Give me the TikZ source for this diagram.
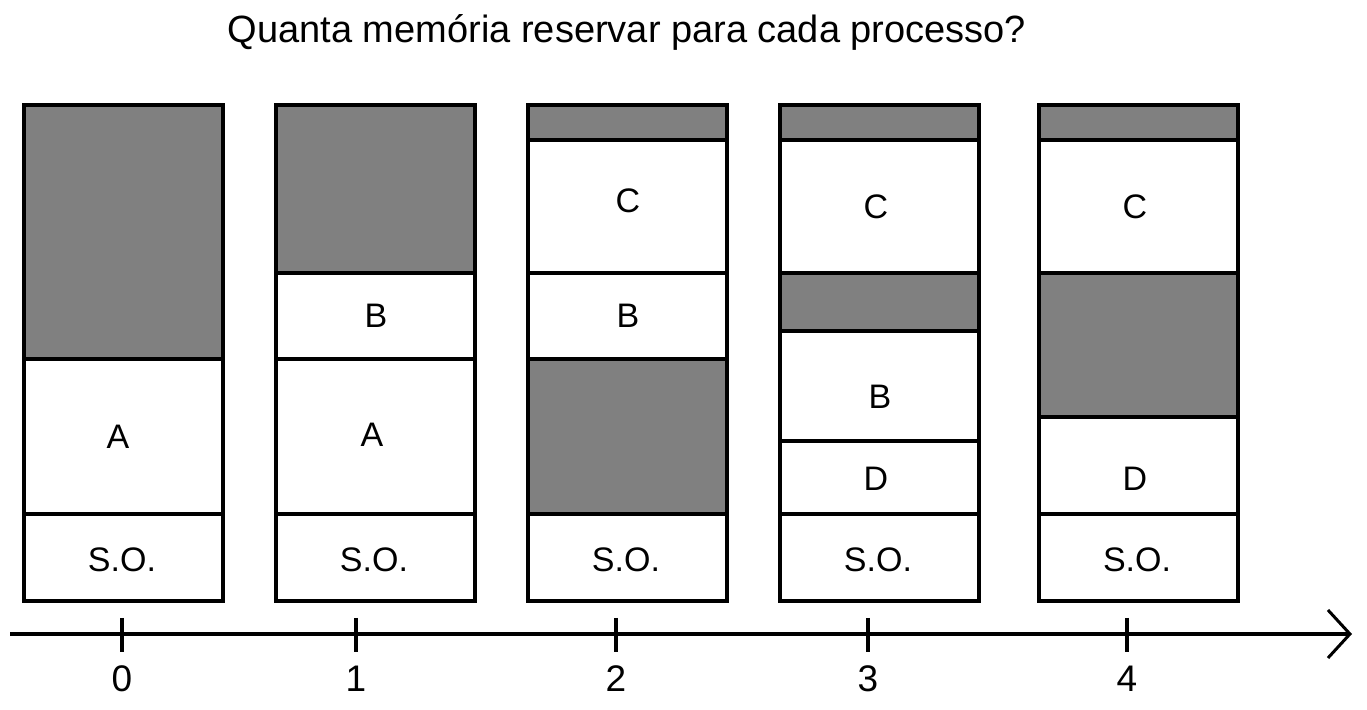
\documentclass[tikz,border=0pt]{standalone}
\usepackage{fontspec}
\setmainfont{Liberation Sans}
\usepackage{tikz}
\usetikzlibrary{
  arrows.meta,
  positioning
}
\definecolor{memFree}{HTML}{808080}
\definecolor{memInk}{HTML}{000000}
\tikzset{
  mem/.style={
    draw=memInk, line width=2pt, minimum width=99.5pt, inner sep=0pt,
    outer sep=0pt, anchor=north west
  },
  hole/.style={mem, fill=memFree},
  proc/.style={mem, fill=white},
  lbl/.style={font=\fontsize{17}{17}\selectfont, inner sep=0pt},
  digit/.style={font=\fontsize{18.5}{18.5}\selectfont, inner sep=0pt},
  timeaxis/.style={line width=2pt, memInk,
    -{Straight Barb[length=11pt, width=24pt, line width=1.5pt]}},
  tickmark/.style={line width=2pt, memInk}
}

\begin{document}
\begin{tikzpicture}[x=0.5pt, y=-0.5pt]
  \useasboundingbox[fill=white] (0,0) rectangle (1367,710);
  \node[font=\fontsize{19}{19}\selectfont] (title) at (627,32) {Quanta memória reservar para cada processo?};

  % instante 0
  \node[hole, minimum height=127pt] (g0a) at (24,105) {};
  \node[proc, minimum height=77.5pt] (a0) at (24,359) {};
  \node[proc, minimum height=43.5pt] (so0) at (24,514) {};
  % instante 1
  \node[hole, minimum height=84pt] (g1a) at (276,105) {};
  \node[proc, minimum height=43pt] (b1) at (276,273) {};
  \node[proc, minimum height=77.5pt] (a1) at (276,359) {};
  \node[proc, minimum height=43.5pt] (so1) at (276,514) {};
  % instante 2
  \node[hole, minimum height=17.5pt] (g2a) at (528,105) {};
  \node[proc, minimum height=66.5pt] (c2) at (528,140) {};
  \node[proc, minimum height=43pt] (b2) at (528,273) {};
  \node[hole, minimum height=77.5pt] (g2b) at (528,359) {};
  \node[proc, minimum height=43.5pt] (so2) at (528,514) {};
  % instante 3
  \node[hole, minimum height=17.5pt] (g3a) at (780,105) {};
  \node[proc, minimum height=66.5pt] (c3) at (780,140) {};
  \node[hole, minimum height=29pt] (g3b) at (780,273) {};
  \node[proc, minimum height=55pt] (b3) at (780,331) {};
  \node[proc, minimum height=36.5pt] (d3) at (780,441) {};
  \node[proc, minimum height=43.5pt] (so3) at (780,514) {};
  % instante 4
  \node[hole, minimum height=17.5pt] (g4a) at (1039,105) {};
  \node[proc, minimum height=66.5pt] (c4) at (1039,140) {};
  \node[hole, minimum height=72pt] (g4b) at (1039,273) {};
  \node[proc, minimum height=48.5pt] (d4) at (1039,417) {};
  \node[proc, minimum height=43.5pt] (so4) at (1039,514) {};

  % rotulos
  \node[lbl] (la0) at (118,437) {A};
  \node[lbl] (lso0) at (122,560) {S.O.};
  \node[lbl] (lb1) at (376,316) {B};
  \node[lbl] (la1) at (372,435) {A};
  \node[lbl] (lso1) at (374,560) {S.O.};
  \node[lbl] (lc2) at (628,201) {C};
  \node[lbl] (lb2) at (628,316) {B};
  \node[lbl] (lso2) at (626,560) {S.O.};
  \node[lbl] (lc3) at (876,207) {C};
  \node[lbl] (lb3) at (880,397) {B};
  \node[lbl] (ld3) at (876,479) {D};
  \node[lbl] (lso3) at (878,560) {S.O.};
  \node[lbl] (lc4) at (1135,207) {C};
  \node[lbl] (ld4) at (1135,479) {D};
  \node[lbl] (lso4) at (1137,560) {S.O.};

  % eixo do tempo
  \coordinate (axL) at (10,634);
  \coordinate (axR) at (1352,634);
  \draw[timeaxis] (axL) -- (axR);
  \foreach \t/\x in {0/122,1/356,2/616,3/868,4/1127} {
    \coordinate (tt\t) at (\x,618);
    \coordinate (tb\t) at (\x,652);
    \draw[tickmark] (tt\t) -- (tb\t);
    \node[digit] (n\t) at (\x,679) {\t};
  }
\end{tikzpicture}
\end{document}
